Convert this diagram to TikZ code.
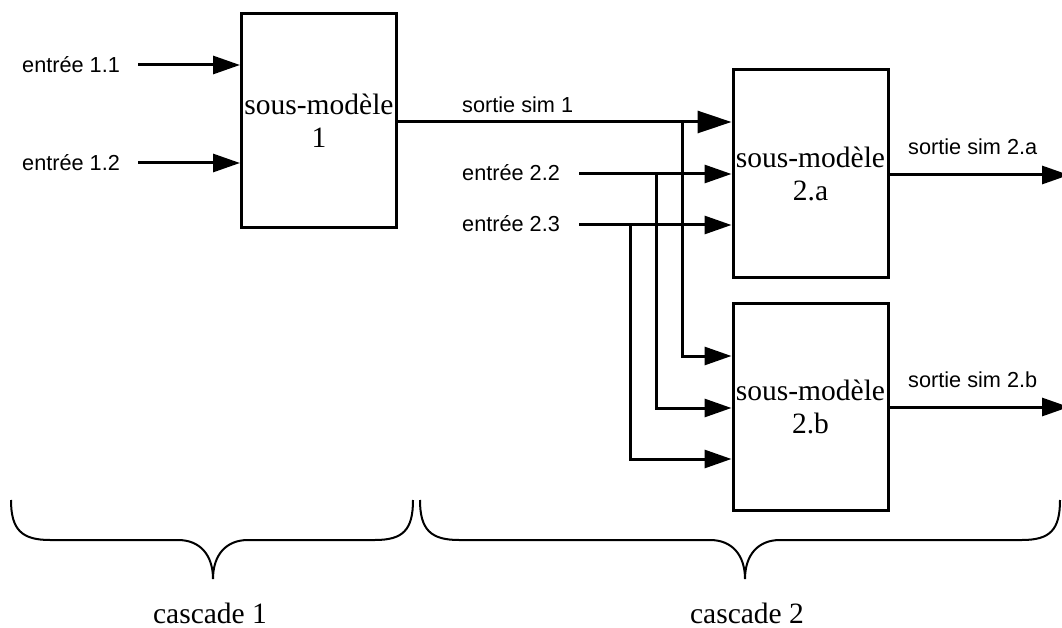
\documentclass[tikz,border=0pt]{standalone}
\usepackage{fontspec}
\setmainfont{Liberation Serif}
\newfontfamily\lblfont{Liberation Sans}
\usetikzlibrary{arrows.meta}
\begin{document}
\begin{tikzpicture}[x=1pt,y=-1pt,
  boxst/.style={draw,line width=3pt,minimum width=155pt,inner sep=0pt,align=center,font=\fontsize{29.5}{33}\selectfont},
  lbl/.style={anchor=west,inner sep=0pt,font=\lblfont\fontsize{21.7}{24}\selectfont},
  captext/.style={inner sep=0pt,font=\fontsize{29.5}{33}\selectfont},
  arr/.style={line width=3pt,-{Triangle[length=27pt,width=18pt]}},
  bigarr/.style={line width=3pt,-{Triangle[length=34pt,width=22pt]}},
  bracest/.style={line width=2pt}]
\useasboundingbox (0,0) rectangle (1062,628);
\fill[white] (0,0) rectangle (1062,628);

% boxes
\node[boxst,minimum height=214pt] (b1) at (319,121) {sous-modèle\\1};
\node[boxst,minimum height=207pt] (b2a) at (810.5,173.5) {sous-modèle\\2.a};
\node[boxst,minimum height=207pt] (b2b) at (810.5,407) {sous-modèle\\2.b};

% labels
\node[lbl] (e11) at (22,65) {entrée 1.1};
\node[lbl] (e12) at (22,163) {entrée 1.2};
\node[lbl] (s1) at (462,105) {sortie sim 1};
\node[lbl] (e22) at (462,173) {entrée 2.2};
\node[lbl] (e23) at (462,224) {entrée 2.3};
\node[lbl] (s2a) at (908,147) {sortie sim 2.a};
\node[lbl] (s2b) at (908,380) {sortie sim 2.b};

% coordinates
\coordinate (a11) at (138,65);
\coordinate (a12) at (138,163);
\coordinate (o1) at (b1.east |- 0,122);
\coordinate (a22) at (579,174);
\coordinate (a23) at (579,225);
\coordinate (j1) at (682,122);
\coordinate (j2) at (656,174);
\coordinate (j3) at (630,225);
\coordinate (o2a) at (1069,175);
\coordinate (o2b) at (1069,407);

% connectors
\draw[arr] (a11) -- (b1.west |- a11);
\draw[arr] (a12) -- (b1.west |- a12);
\draw[bigarr] (o1) -- (b2a.west |- o1);
\draw[arr] (a22) -- (b2a.west |- a22);
\draw[arr] (a23) -- (b2a.west |- a23);
\draw[arr] (j1) |- (b2b.west |- 0,356);
\draw[arr] (j2) |- (b2b.west |- 0,408);
\draw[arr] (j3) |- (b2b.west |- 0,459);
\draw[arr] (b2a.east |- o2a) -- (o2a);
\draw[arr] (b2b.east |- o2b) -- (o2b);

% braces
\draw[bracest] (11,500) .. controls (11,530) and (22,540) .. (50,540) -- (178,540)
  .. controls (200,540) and (213,555) .. (213,579)
  .. controls (213,555) and (226,540) .. (248,540) -- (375,540)
  .. controls (403,540) and (413,530) .. (413,500);
\draw[bracest] (420,500) .. controls (420,530) and (431,540) .. (459,540) -- (710,540)
  .. controls (732,540) and (745,555) .. (745,579)
  .. controls (745,555) and (758,540) .. (780,540) -- (1022,540)
  .. controls (1050,540) and (1060,530) .. (1060,500);

\node[captext] (c1) at (210,613) {cascade 1};
\node[captext] (c2) at (747,613) {cascade 2};
\end{tikzpicture}
\end{document}
